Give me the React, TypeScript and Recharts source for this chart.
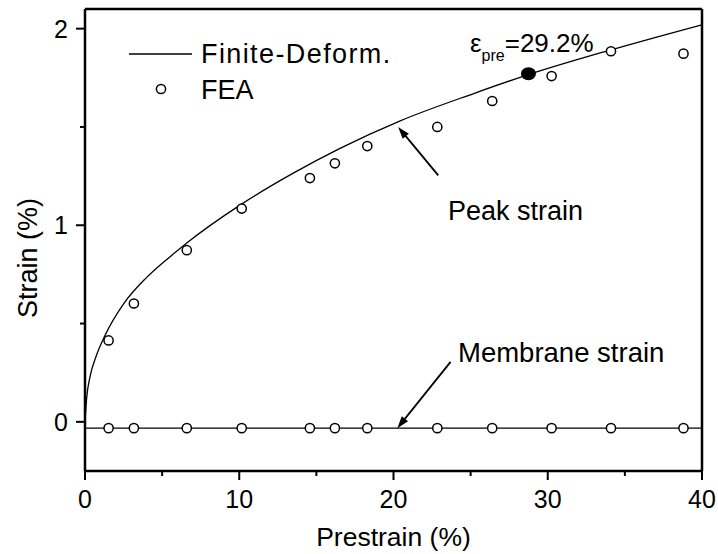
import React from 'react';
import { ComposedChart, Line, Scatter, XAxis, YAxis, ReferenceLine } from 'recharts';

// Finite-deformation theory curve (peak strain)
const curveX = [0, 0.12, 0.3, 0.75, 1.3, 2.5, 4, 5.9, 6.6, 10, 13.5, 16.5, 20.4, 25.2, 28.7, 34, 40];
const curveY = [0, 0.13, 0.22, 0.34, 0.44, 0.6, 0.735, 0.865, 0.91, 1.1, 1.265, 1.39, 1.53, 1.67, 1.765, 1.89, 2.02];

// Finite-deformation membrane strain (flat line)
const membraneX = [0, 40];
const membraneY = [-0.032, -0.032];

// FEA results
const feaX = [1.53, 3.17, 6.6, 10.16, 14.58, 16.2, 18.3, 22.84, 26.4, 30.25, 34.1, 38.8];
const feaPeakY = [0.414, 0.602, 0.873, 1.085, 1.24, 1.315, 1.403, 1.5, 1.632, 1.759, 1.885, 1.873];
const feaMembraneY = [-0.032, -0.032, -0.032, -0.032, -0.032, -0.032, -0.032, -0.032, -0.032, -0.032, -0.032, -0.032];

// Critical prestrain point
const criticalX = [28.75];
const criticalY = [1.771];

// Ticks
const xTicks = [0, 5, 10, 15, 20, 25, 30, 35, 40];
const xMajor = [0, 10, 20, 30, 40];
const yTicks = [0, 0.5, 1, 1.5, 2];
const yMajor = [0, 1, 2];

const zip = (xs: number[], ys: number[]) => xs.map((x, i) => ({ x, y: ys[i] }));

const curveData = zip(curveX, curveY);
const membraneData = zip(membraneX, membraneY);
const peakData = zip(feaX, feaPeakY);
const feaMembraneData = zip(feaX, feaMembraneY);
const criticalData = zip(criticalX, criticalY);

const FONT = '"Liberation Sans", Arial, Helvetica, sans-serif';

const XTick = (props: any) => {
  const { x, y, payload } = props;
  const v = payload.value;
  const major = xMajor.includes(v);
  return (
    <g>
      <line x1={x} y1={y} x2={x} y2={y + (major ? 9 : 5)} stroke="#000" strokeWidth={2} />
      {major && (
        <text x={x} y={y + 37} textAnchor="middle" fontSize={25} fontFamily={FONT} fill="#000">
          {v}
        </text>
      )}
    </g>
  );
};

const YTick = (props: any) => {
  const { x, y, payload } = props;
  const v = payload.value;
  const major = yMajor.includes(v);
  return (
    <g>
      <line x1={x - (major ? 9 : 5)} y1={y} x2={x} y2={y} stroke="#000" strokeWidth={2} />
      {major && (
        <text x={x - 17} y={y + 9} textAnchor="end" fontSize={25} fontFamily={FONT} fill="#000">
          {v}
        </text>
      )}
    </g>
  );
};

const OpenCircle = (props: any) => {
  const { cx, cy } = props;
  return <circle cx={cx} cy={cy} r={4.6} fill="#fff" stroke="#000" strokeWidth={1.5} />;
};

const FilledDot = (props: any) => {
  const { cx, cy } = props;
  return <ellipse cx={cx} cy={cy} rx={7.5} ry={6.5} fill="#000" />;
};

const Arrow = (p: any) => {
  const { x1, y1, x2, y2 } = p;
  const dx = x2 - x1;
  const dy = y2 - y1;
  const L = Math.hypot(dx, dy) || 1;
  const ux = dx / L;
  const uy = dy / L;
  const hl = 12;
  const hw = 4;
  const bx = x2 - ux * hl;
  const by = y2 - uy * hl;
  const px = -uy;
  const py = ux;
  return (
    <g>
      <line x1={x1} y1={y1} x2={bx + ux * 2} y2={by + uy * 2} stroke="#000" strokeWidth={1.8} />
      <polygon
        points={`${x2},${y2} ${bx + px * hw},${by + py * hw} ${bx - px * hw},${by - py * hw}`}
        fill="#000"
      />
    </g>
  );
};

export default function App() {
  return (
    <div style={{ position: 'absolute', left: 0, top: 0, background: '#fff' }}>
      <ComposedChart width={718} height={554} margin={{ top: 9, right: 16, bottom: 0, left: 0 }}>
        <XAxis
          dataKey="x"
          type="number"
          domain={[0, 40]}
          ticks={xTicks}
          interval={0}
          allowDataOverflow
          height={83}
          tickSize={0}
          tickMargin={0}
          tick={<XTick />}
          axisLine={{ stroke: '#000', strokeWidth: 2.5 }}
        />
        <YAxis
          dataKey="y"
          type="number"
          domain={[-0.25, 2.1]}
          ticks={yTicks}
          interval={0}
          allowDataOverflow
          width={85}
          tickSize={0}
          tickMargin={0}
          tick={<YTick />}
          axisLine={{ stroke: '#000', strokeWidth: 2.5 }}
        />
        <ReferenceLine y={2.1} stroke="#000" strokeWidth={2.5} />
        <ReferenceLine x={40} stroke="#000" strokeWidth={2.5} />
        <Line
          data={curveData}
          dataKey="y"
          type="monotone"
          dot={false}
          stroke="#000"
          strokeWidth={1.3}
          isAnimationActive={false}
        />
        <Line
          data={membraneData}
          dataKey="y"
          type="linear"
          dot={false}
          stroke="#000"
          strokeWidth={1.3}
          isAnimationActive={false}
        />
        <ReferenceLine
          segment={[{ x: 22.9, y: 1.254 }, { x: 20.3, y: 1.5 }]}
          ifOverflow="visible"
          shape={<Arrow />}
        />
        <ReferenceLine
          segment={[{ x: 23.7, y: 0.305 }, { x: 20.25, y: -0.032 }]}
          ifOverflow="visible"
          shape={<Arrow />}
        />
        <Scatter data={peakData} dataKey="y" shape={<OpenCircle />} isAnimationActive={false} />
        <Scatter data={feaMembraneData} dataKey="y" shape={<OpenCircle />} isAnimationActive={false} />
        <Scatter data={criticalData} dataKey="y" shape={<FilledDot />} isAnimationActive={false} />

        {/* Legend */}
        <line x1={129} y1={54} x2={192} y2={54} stroke="#000" strokeWidth={1.3} />
        <text x={201} y={63} fontSize={27} letterSpacing={1.4} fontFamily={FONT} fill="#000">
          Finite-Deform.
        </text>
        <circle cx={161} cy={89} r={4.6} fill="#fff" stroke="#000" strokeWidth={1.5} />
        <text x={201} y={99} fontSize={27} fontFamily={FONT} fill="#000">
          FEA
        </text>

        {/* Annotations */}
        <text x={470} y={52} fontSize={26} fontFamily={FONT} fill="#000">
          <tspan>ε</tspan>
          <tspan dy={9} fontSize={16}>pre</tspan>
          <tspan dy={-9}>=29.2%</tspan>
        </text>
        <text x={448} y={220} fontSize={27} fontFamily={FONT} fill="#000">
          Peak strain
        </text>
        <text x={458} y={362} fontSize={27.5} fontFamily={FONT} fill="#000">
          Membrane strain
        </text>

        {/* Axis titles */}
        <text x={393.5} y={546} textAnchor="middle" fontSize={26.5} fontFamily={FONT} fill="#000">
          Prestrain (%)
        </text>
        <text
          transform="translate(37,258) rotate(-90)"
          textAnchor="middle"
          fontSize={27}
          fontFamily={FONT}
          fill="#000"
        >
          Strain (%)
        </text>
      </ComposedChart>
    </div>
  );
}
